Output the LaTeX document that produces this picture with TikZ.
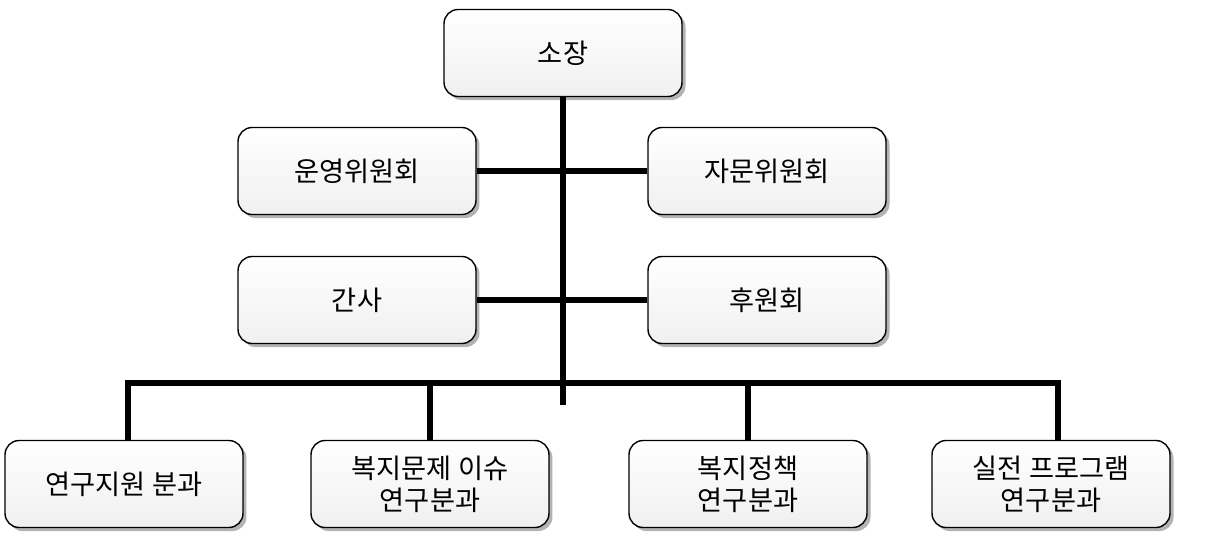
\documentclass[tikz,border=0pt]{standalone}
\usepackage{fontspec}
\setmainfont{Noto Sans CJK KR}
\usetikzlibrary{shadows, calc}
\tikzset{
    unit/.style={draw, thick, rounded corners=8pt, minimum width=4.76cm, minimum height=1.74cm,
        align=center, font=\fontsize{15.5}{18}\selectfont, top color=white, bottom color=gray!12,
        drop shadow={shadow xshift=2pt, shadow yshift=-2pt, opacity=0.6}},
    link/.style={line width=3.4pt}
}
\begin{document}
\begin{tikzpicture}[x=0.02cm, y=-0.02cm]
    \useasboundingbox (0,0) rectangle (1206,554);
    % top
    \node[unit] (head) at (563,53) {소장};
    \node[unit] (steer) at (357,171) {운영위원회};
    \node[unit] (advice) at (767,171) {자문위원회};
    \node[unit] (staff) at (357,300) {간사};
    \node[unit] (sponsor) at (767,300) {후원회};
    % divisions
    \node[unit] (divA) at (124,484) {연구지원 분과};
    \node[unit] (divB) at (430,484) {복지문제 이슈\\연구분과};
    \node[unit] (divC) at (748,484) {복지정책\\연구분과};
    \node[unit] (divD) at (1051,484) {실전 프로그램\\연구분과};
    % connectors
    \coordinate (trunk) at (563,405);
    \coordinate (bar) at (563,383);
    \draw[link] (head.south) -- (trunk);
    \draw[link] (steer.east) -- (advice.west);
    \draw[link] (staff.east) -- (sponsor.west);
    \draw[link] (divA.north -| 128,0) |- (bar) -| (divD.north -| 1058,0);
    \draw[link] (divB.north) -- (divB.north |- bar);
    \draw[link] (divC.north) -- (divC.north |- bar);
\end{tikzpicture}
\end{document}
